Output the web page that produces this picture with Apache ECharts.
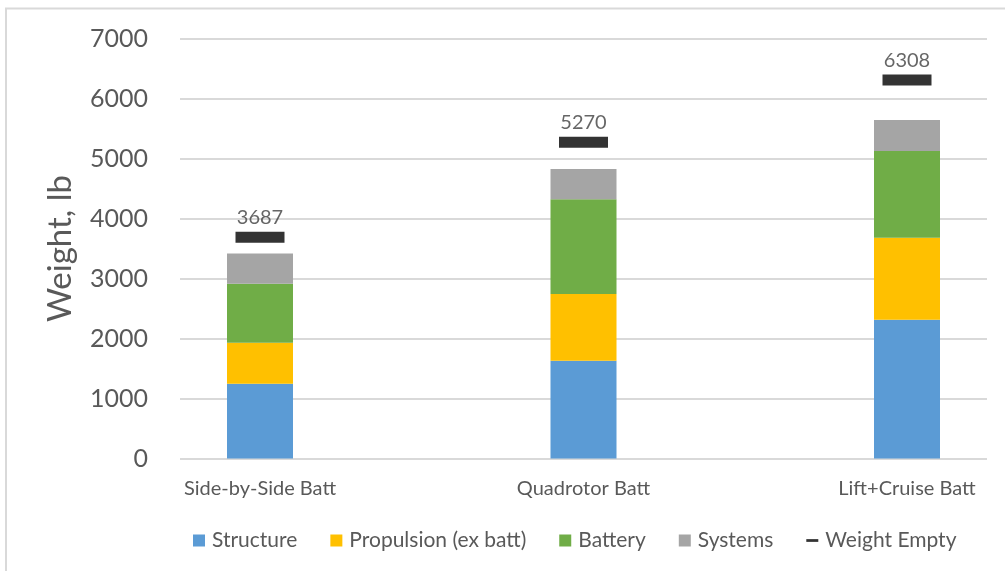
<!DOCTYPE html>
<html>
<head>
<meta charset="utf-8">
<script src="https://cdn.jsdelivr.net/npm/echarts@6/dist/echarts.min.js"></script>
<style>
  html, body { margin: 0; padding: 0; background: #fff; }
  #chart { width: 1005px; height: 571px; }
</style>
</head>
<body>
<div id="chart"></div>
<script>
const categories = ['Side-by-Side Batt', 'Quadrotor Batt', 'Lift+Cruise Batt'];
const structure = [1245, 1630, 2313];
const propulsion = [685, 1112, 1367];
const battery = [983, 1578, 1445];
const systems = [505, 505, 515];
const weightEmpty = [3687, 5270, 6308];
const yTicks = { min: 0, max: 7000, interval: 1000 };

const FONT = 'Lato';
const TXT = '#595959';

const chart = echarts.init(document.getElementById('chart'), null, { renderer: 'canvas' });

const barBase = {
  type: 'bar',
  stack: 'total',
  xAxisIndex: 1,
  yAxisIndex: 1,
  barWidth: 66,
  emphasis: { disabled: true }
};

chart.setOption({
  animation: false,
  backgroundColor: '#fff',
  textStyle: { fontFamily: FONT },
  graphic: [{
    type: 'rect',
    shape: { x: 6, y: 8.5, width: 1100, height: 700 },
    style: { fill: 'none', stroke: '#d9d9d9', lineWidth: 2 },
    silent: true
  }],
  grid: [
    { left: 180, width: 807, top: 38.5, height: 420 },
    { left: 260, width: 647, top: 38.5, height: 420 }
  ],
  xAxis: [
    { gridIndex: 0, type: 'category', data: categories, show: false },
    {
      gridIndex: 1, type: 'category', data: categories, boundaryGap: false,
      axisLine: { show: false }, axisTick: { show: false },
      axisLabel: { color: TXT, fontSize: 20, fontFamily: FONT, margin: 20 },
      splitLine: { show: false }
    }
  ],
  yAxis: [
    {
      gridIndex: 0, type: 'value', min: yTicks.min, max: yTicks.max, interval: yTicks.interval,
      name: 'Weight, lb', nameLocation: 'middle', nameGap: 103, nameRotate: 90,
      nameMoveOverlap: false,
      nameTextStyle: { color: TXT, fontSize: 33, fontFamily: FONT },
      axisLine: { show: false }, axisTick: { show: false },
      axisLabel: { color: TXT, fontSize: 25, fontFamily: FONT, margin: 32, formatter: v => String(v) },
      splitLine: { lineStyle: { color: '#d9d9d9', width: 2 } }
    },
    {
      gridIndex: 1, type: 'value', min: yTicks.min, max: yTicks.max, interval: yTicks.interval,
      show: false, splitLine: { show: false }
    }
  ],
  legend: {
    left: 188, top: 525,
    itemWidth: 12, itemHeight: 12, itemGap: 33,
    textStyle: { color: TXT, fontSize: 21, fontFamily: FONT, padding: [0, 0, 0, 2] },
    data: [
      { name: 'Structure', icon: 'rect' },
      { name: 'Propulsion (ex batt)', icon: 'rect' },
      { name: 'Battery', icon: 'rect' },
      { name: 'Systems', icon: 'rect' },
      { name: 'Weight Empty', icon: 'path://M0,0h13v3h-13z' }
    ],
    selectedMode: false
  },
  series: [
    Object.assign({}, barBase, { name: 'Structure', data: structure, itemStyle: { color: '#5b9bd5' } }),
    Object.assign({}, barBase, { name: 'Propulsion (ex batt)', data: propulsion, itemStyle: { color: '#ffc000' } }),
    Object.assign({}, barBase, { name: 'Battery', data: battery, itemStyle: { color: '#70ad47' } }),
    Object.assign({}, barBase, { name: 'Systems', data: systems, itemStyle: { color: '#a5a5a5' } }),
    {
      name: 'Weight Empty', type: 'scatter', xAxisIndex: 1, yAxisIndex: 1,
      data: weightEmpty, symbol: 'rect', symbolSize: [49, 11],
      itemStyle: { color: '#000' },
      label: { show: true, position: 'top', distance: 4, color: '#404040', fontSize: 20, fontFamily: FONT },
      emphasis: { disabled: true }
    }
  ]
});
</script>
</body>
</html>
